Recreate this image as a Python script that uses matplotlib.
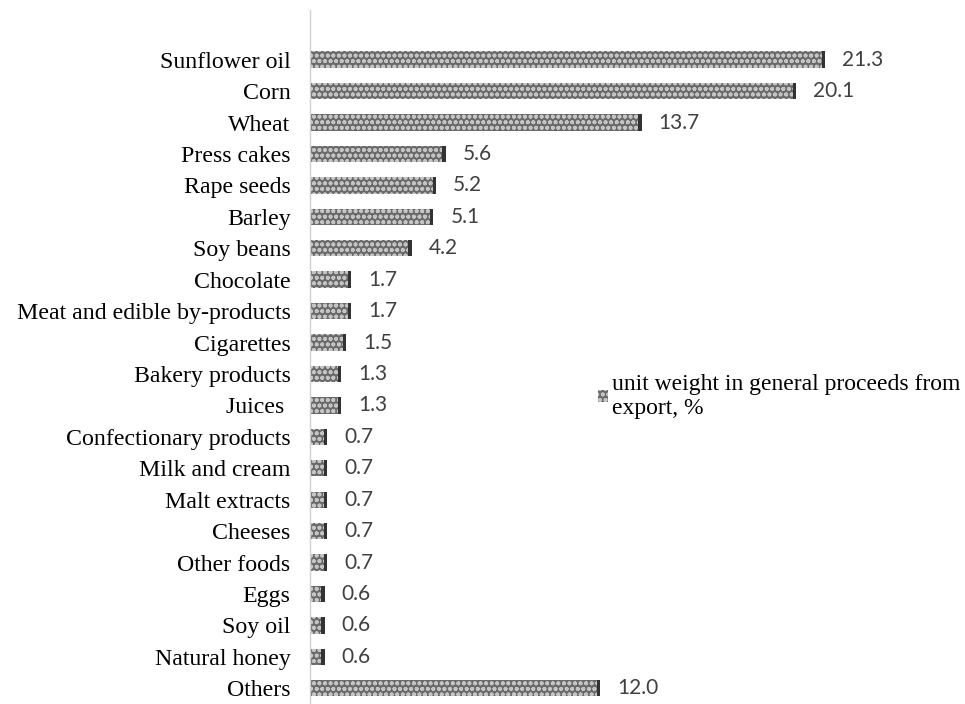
import matplotlib.pyplot as plt

# data
categories = ["Sunflower oil", "Corn", "Wheat", "Press cakes", "Rape seeds", "Barley",
              "Soy beans", "Chocolate", "Meat and edible by-products", "Cigarettes",
              "Bakery products", "Juices ", "Confectionary products", "Milk and cream",
              "Malt extracts", "Cheeses", "Other foods", "Eggs", "Soy oil",
              "Natural honey", "Others"]
values = [21.3, 20.1, 13.7, 5.6, 5.2, 5.1, 4.2, 1.7, 1.7, 1.5, 1.3, 1.3,
          0.7, 0.7, 0.7, 0.7, 0.7, 0.6, 0.6, 0.6, 12.0]
series_name = "unit weight in general proceeds from\nexport, %"

plt.rcParams["hatch.linewidth"] = 1.2

fig = plt.figure(figsize=(9.65, 7.04), dpi=100)
ax = fig.add_axes([310 / 965, 0, 1 - 310 / 965, 1 - 10 / 704])

pos = list(range(len(categories)))
bars = ax.barh(pos, values, height=0.52, color="#6a6a6a", edgecolor="#c4c4c4",
               hatch="ooo", linewidth=0, label=series_name)

# thin dark right end like the original fill
end_w = 0.13
ax.barh(pos, [end_w] * len(values), left=[v - end_w for v in values],
        height=0.52, color="#333333", linewidth=0)

for p, v in zip(pos, values):
    ax.text(v + 0.7, p, f"{v:.1f}", va="center", ha="left", fontsize=15,
            family="Lato", color="#404040")

ax.set_xlim(0, (965 - 310) / 24.2)
ax.set_ylim(20.5, -0.5 - 34 / 31.5)
ax.set_yticks(pos)
ax.set_yticklabels(categories, family="Liberation Serif", fontsize=17.2)
ax.tick_params(axis="y", length=0, pad=14)
ax.set_xticks([])
for s in ["top", "right", "bottom"]:
    ax.spines[s].set_visible(False)
ax.spines["left"].set_color("#d0d0d0")
ax.spines["left"].set_linewidth(1)

leg = ax.legend(handles=[bars], loc="upper left", bbox_to_anchor=(586 / 965, 1 - 362 / 704),
                bbox_transform=fig.transFigure, frameon=False,
                prop={"family": "Liberation Serif", "size": 17},
                handlelength=0.45, handleheight=0.45, handletextpad=0.15, borderpad=0)
for t in leg.get_texts():
    t.set_linespacing(1.2)

fig.savefig("out.png", dpi=100)
